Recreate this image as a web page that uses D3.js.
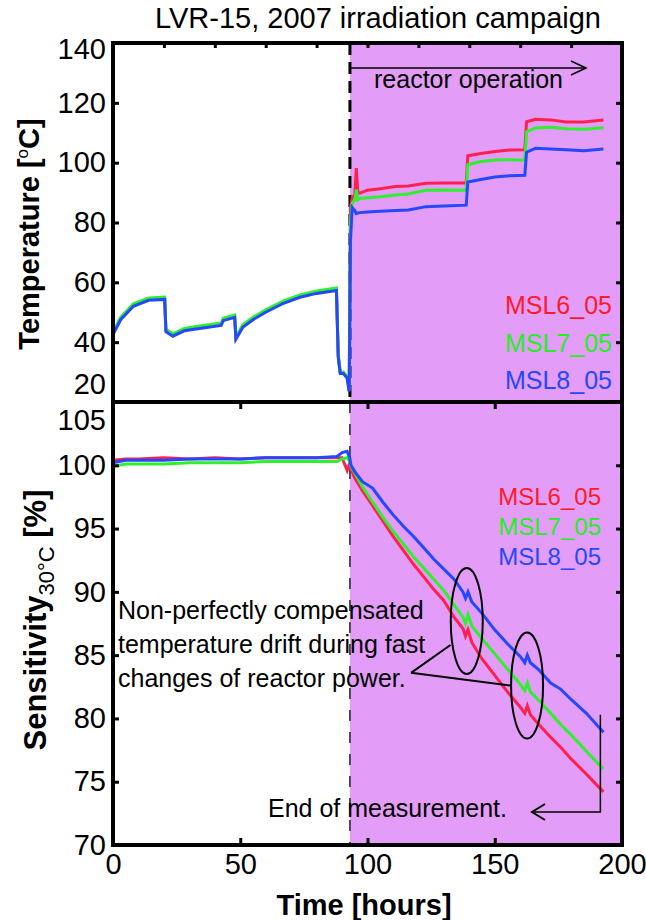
<!DOCTYPE html>
<html>
<head>
<meta charset="utf-8">
<script src="https://cdn.jsdelivr.net/npm/d3@7"></script>
<style>
    body { margin: 0; background: #fff; }
    text { font-family: "Liberation Sans", Arial, Helvetica, sans-serif; }
</style>
</head>
<body>
<div id="chart"></div>
<script>
// Data
var seriesNames = ["MSL6_05", "MSL7_05", "MSL8_05"];
var seriesColors = ["#ff2050", "#2ef02e", "#2448ff"];
var labelColors = ["#ff1a2a", "#22f022", "#2448ff"];

var reactorStart = 93.1;
var endOfMeasurement = 192.7;

// Temperature panel (hours, degC)
var tempHours = [0, 0.3, 3, 8, 14, 20.3, 20.8, 23.5, 28, 34, 42.5, 43.3, 47.8, 48.3, 51, 55, 60, 67, 73.5, 80, 87.8, 88.5, 89.3, 90.5, 92, 92.8,
    93.3, 94, 95, 95.6, 96.2, 97, 100, 105, 111, 116, 123, 130, 138.8, 139.4, 144, 150, 156, 161.8, 162.5, 166, 172, 178, 185, 192.7];
var tempMSL6 = [50.2, 43.4, 47.9, 52.4, 54.4, 54.7, 43.9, 42.4, 44.2, 45, 46, 47.6, 48.7, 41.4, 45.4, 47.9, 50.4, 53.4, 55.4, 56.7, 57.7, 35.4, 29.8, 29.8, 28.3, 23.8,
    85, 88.5, 89, 98.2, 90, 89.8, 90.8, 91.3, 92, 92.2, 93.1, 93.2, 93.2, 102.3, 103, 103.7, 104.2, 104.3, 113.7, 114.5, 114.3, 113.6, 113.6, 114.3];
var tempMSL7 = [50.5, 43.8, 48.3, 52.8, 54.8, 55.1, 44.3, 42.8, 44.6, 45.4, 46.4, 48, 49.1, 41.8, 45.8, 48.3, 50.8, 53.8, 55.8, 57.1, 58.1, 35.8, 30, 30, 28.5, 24,
    80, 86.5, 87.5, 91, 87.6, 88, 88.3, 88.6, 89.2, 89.5, 90.8, 90.9, 90.8, 99.3, 100.3, 100.9, 101, 100.8, 110.3, 111.6, 111.8, 111.3, 111.2, 111.7];
var tempMSL8 = [49.8, 43, 47.5, 52, 54, 54.3, 43.5, 42, 43.8, 44.6, 45.6, 47.2, 48.3, 41, 45, 47.5, 50, 53, 55, 56.3, 57.3, 35, 29.5, 29.5, 28, 23.5,
    74, 85, 84, 83, 83.2, 83.3, 83.5, 83.8, 84, 84.2, 85.3, 85.5, 85.8, 93.5, 94.3, 95.2, 95.6, 95.8, 103.5, 104.8, 104.6, 104.3, 104, 104.6];

// Sensitivity panel (hours, %)
var sensHours = [0, 5, 10, 20, 30, 40, 50, 60, 70, 80, 88, 90, 92, 93, 93.5, 95, 98, 102, 106, 110, 114, 118, 122, 126, 130, 134,
    137.5, 138.5, 139.5, 141, 145, 150, 155, 160, 161.8, 162.8, 164, 167, 172, 176, 180, 186, 192.7];
var sensMSL6 = [100.4, 100.5, 100.5, 100.6, 100.5, 100.6, 100.5, 100.6, 100.6, 100.6, 100.6, 100.6, 99.6, 100.2, 99.7, 99.0, 98.0, 96.8, 95.6, 94.4, 93.3, 92.2, 91.2, 90.2, 89.3, 88.0,
    87.1, 86.5, 87.0, 86.0, 84.7, 83.4, 82.1, 80.9, 80.4, 81.0, 80.3, 79.6, 78.5, 77.7, 76.8, 75.6, 74.2];
var sensMSL7 = [99.9, 100.1, 100.1, 100.1, 100.2, 100.2, 100.2, 100.3, 100.3, 100.3, 100.3, 100.5, 100.6, 100.3, 99.9, 99.4, 98.3, 97.1, 95.9, 94.8, 93.8, 92.8, 91.9, 91.0, 90.1, 89.0,
    88.0, 87.5, 88.2, 87.3, 86.3, 85.1, 83.9, 82.7, 82.2, 82.8, 82.1, 81.5, 80.4, 79.5, 78.7, 77.4, 76.0];
var sensMSL8 = [100.2, 100.4, 100.4, 100.4, 100.5, 100.5, 100.5, 100.6, 100.6, 100.6, 100.7, 101.0, 101.1, 100.6, 100.0, 99.5, 98.7, 98.2, 97.1, 96.1, 95.2, 94.4, 93.5, 92.6, 91.8, 91.0,
    90.0, 89.5, 90.0, 89.2, 88.3, 87.0, 85.9, 84.9, 84.4, 85.0, 84.4, 83.9, 82.8, 82.3, 81.5, 80.4, 78.9];

// Tick values
var xTicks = [0, 50, 100, 150, 200];
var xTicksTop = [0, 20, 40, 60, 80, 100, 120, 140, 160, 180, 200];
var tempTicks = [20, 40, 60, 80, 100, 120, 140];
var sensTicks = [70, 75, 80, 85, 90, 95, 100, 105];

// Annotation positions (hours, %)
var ellipseCenters = [[139, 87.7], [162.7, 82.6]];
var pointerVertex = [117.1, 83.6];
var pointerEnds = [[132.6, 85.8], [156.3, 82.6]];

var w = 646;
var h = 920;

var svg = d3.select("#chart")
    .append("svg")
    .attr("width", w)
    .attr("height", h);

// Scales
var xScale = d3.scaleLinear().domain([0, 200]).range([113, 622]);
var yTemp = d3.scaleLinear().domain([20, 140]).range([402, 43]);
var ySens = d3.scaleLinear().domain([70, 105]).range([845, 402]);

// Purple area = reactor operating
svg.append("rect")
    .attr("x", xScale(reactorStart))
    .attr("y", yTemp(140))
    .attr("width", xScale(200) - xScale(reactorStart))
    .attr("height", ySens(70) - yTemp(140))
    .style("fill", "#e39cf7");

// Dashed line at reactor start
svg.append("line")
    .attr("x1", xScale(reactorStart)).attr("x2", xScale(reactorStart))
    .attr("y1", yTemp(140)).attr("y2", yTemp(20))
    .style("stroke", "#000")
    .style("stroke-width", 3)
    .style("stroke-dasharray", "12,7");

svg.append("line")
    .attr("x1", xScale(reactorStart)).attr("x2", xScale(reactorStart))
    .attr("y1", ySens(105)).attr("y2", ySens(70))
    .style("stroke", "#222")
    .style("stroke-width", 1.5)
    .style("stroke-dasharray", "11,11");

// Lines
var tempLine = function (vals) {
    return d3.line()
        .x(function (d, i) { return xScale(tempHours[i]); })
        .y(function (d) { return yTemp(d); })(vals);
};
var sensLine = function (vals) {
    return d3.line()
        .x(function (d, i) { return xScale(sensHours[i]); })
        .y(function (d) { return ySens(d); })(vals);
};

[tempMSL6, tempMSL7, tempMSL8].forEach(function (vals, i) {
    svg.append("path")
        .attr("d", tempLine(vals))
        .style("fill", "none")
        .style("stroke", seriesColors[i])
        .style("stroke-width", 3);
});

[sensMSL6, sensMSL7, sensMSL8].forEach(function (vals, i) {
    svg.append("path")
        .attr("d", sensLine(vals))
        .style("fill", "none")
        .style("stroke", seriesColors[i])
        .style("stroke-width", 3);
});

// Axes (ticks inside, MATLAB style)
function styleAxis(g) {
    g.select(".domain").remove();
    g.selectAll(".tick line").style("stroke", "#000").style("stroke-width", 3);
    g.selectAll(".tick text").style("font-size", "29px").style("fill", "#000").style("font-family", null);
}

svg.append("g")
    .attr("transform", "translate(" + xScale(0) + ",0)")
    .call(d3.axisLeft(yTemp).tickValues(tempTicks).tickSize(-6).tickPadding(7))
    .call(styleAxis)
    .selectAll(".tick text")
    .attr("dy", function (d) { return d == 140 ? "0.55em" : (d == 20 ? "-0.3em" : "0.32em"); });

svg.append("g")
    .attr("transform", "translate(" + xScale(200) + ",0)")
    .call(d3.axisRight(yTemp).tickValues(tempTicks).tickSize(-6).tickFormat(""))
    .call(styleAxis);

svg.append("g")
    .attr("transform", "translate(" + xScale(0) + ",0)")
    .call(d3.axisLeft(ySens).tickValues(sensTicks).tickSize(-6).tickPadding(7))
    .call(styleAxis)
    .selectAll(".tick text")
    .attr("dy", function (d) { return d == 105 ? "0.95em" : "0.32em"; });

svg.append("g")
    .attr("transform", "translate(" + xScale(200) + ",0)")
    .call(d3.axisRight(ySens).tickValues(sensTicks).tickSize(-6).tickFormat(""))
    .call(styleAxis);

svg.append("g")
    .attr("transform", "translate(0," + yTemp(140) + ")")
    .call(d3.axisTop(xScale).tickValues(xTicksTop).tickSize(-5).tickFormat(""))
    .call(styleAxis);

svg.append("g")
    .attr("transform", "translate(0," + ySens(105) + ")")
    .call(d3.axisTop(xScale).tickValues(xTicks).tickSize(-7).tickFormat(""))
    .call(styleAxis);

svg.append("g")
    .attr("transform", "translate(0," + ySens(70) + ")")
    .call(d3.axisBottom(xScale).tickValues(xTicks).tickSize(-7).tickPadding(8))
    .call(styleAxis);

// Frames
svg.append("rect")
    .attr("x", xScale(0)).attr("y", yTemp(140))
    .attr("width", xScale(200) - xScale(0))
    .attr("height", yTemp(20) - yTemp(140))
    .style("fill", "none").style("stroke", "#000").style("stroke-width", 4);

svg.append("rect")
    .attr("x", xScale(0)).attr("y", ySens(105))
    .attr("width", xScale(200) - xScale(0))
    .attr("height", ySens(70) - ySens(105))
    .style("fill", "none").style("stroke", "#000").style("stroke-width", 4);

// Titles
svg.append("text")
    .attr("x", 378).attr("y", 28)
    .attr("text-anchor", "middle")
    .style("font-size", "29px")
    .text("LVR-15, 2007 irradiation campaign");

svg.append("text")
    .attr("x", 364).attr("y", 915)
    .attr("text-anchor", "middle")
    .style("font-size", "29px")
    .style("font-weight", "bold")
    .text("Time [hours]");

var tLabel = svg.append("text")
    .attr("text-anchor", "middle")
    .attr("transform", "translate(39,234) rotate(-90)")
    .style("font-size", "29px")
    .style("font-weight", "bold");
tLabel.append("tspan").text("Temperature [");
tLabel.append("tspan").attr("dy", -11).style("font-size", "17px").style("font-weight", "normal").text("o");
tLabel.append("tspan").attr("dy", 11).text("C]");

var sLabel = svg.append("text")
    .attr("text-anchor", "middle")
    .attr("transform", "translate(46,620) rotate(-90)")
    .style("font-size", "31px")
    .style("font-weight", "bold");
sLabel.append("tspan").text("Sensitivity");
sLabel.append("tspan").attr("dy", 8).style("font-size", "22px").style("font-weight", "normal").text("30°C");
sLabel.append("tspan").attr("dy", -8).text("  [%]");

// Reactor operation arrow
var arrowY = 68;
svg.append("line")
    .attr("x1", xScale(reactorStart)).attr("x2", 586)
    .attr("y1", arrowY).attr("y2", arrowY)
    .style("stroke", "#000").style("stroke-width", 1.5);
svg.append("path")
    .attr("d", "M571," + (arrowY - 7) + "L586," + arrowY + "L571," + (arrowY + 7))
    .style("fill", "none").style("stroke", "#000").style("stroke-width", 1.5);
svg.append("text")
    .attr("x", 374).attr("y", 88)
    .style("font-size", "25px")
    .text("reactor operation");

// Legends
var legTop = [314, 352, 389];
var legBottom = [505, 535, 565];
seriesNames.forEach(function (name, i) {
    svg.append("text")
        .attr("x", 612).attr("y", legTop[i])
        .attr("text-anchor", "end")
        .style("font-size", "25px")
        .style("fill", labelColors[i])
        .text(name);
    svg.append("text")
        .attr("x", 601).attr("y", legBottom[i])
        .attr("text-anchor", "end")
        .style("font-size", "24px")
        .style("fill", labelColors[i])
        .text(name);
});

// Annotation: drift during power changes
var noteLines = ["Non-perfectly compensated", "temperature drift during fast", "changes of reactor power."];
noteLines.forEach(function (t, i) {
    svg.append("text")
        .attr("x", 118).attr("y", 619 + i * 34)
        .style("font-size", "25px")
        .text(t);
});

ellipseCenters.forEach(function (c) {
    svg.append("ellipse")
        .attr("cx", xScale(c[0])).attr("cy", ySens(c[1]))
        .attr("rx", 16).attr("ry", 53)
        .style("fill", "none").style("stroke", "#000").style("stroke-width", 2);
});

pointerEnds.forEach(function (p) {
    svg.append("line")
        .attr("x1", xScale(pointerVertex[0])).attr("y1", ySens(pointerVertex[1]))
        .attr("x2", xScale(p[0])).attr("y2", ySens(p[1]))
        .style("stroke", "#000").style("stroke-width", 2);
});

// End of measurement bracket
var bx = xScale(191.5);
var by = 812;
svg.append("path")
    .attr("d", "M" + bx + "," + ySens(80.3) + "V" + by + "H" + 532)
    .style("fill", "none").style("stroke", "#000").style("stroke-width", 1.5);
svg.append("path")
    .attr("d", "M545," + (by - 8) + "L532," + by + "L545," + (by + 8))
    .style("fill", "none").style("stroke", "#000").style("stroke-width", 2);
svg.append("text")
    .attr("x", 268).attr("y", 817)
    .style("font-size", "25px")
    .text("End of measurement.");
</script>
</body>
</html>
